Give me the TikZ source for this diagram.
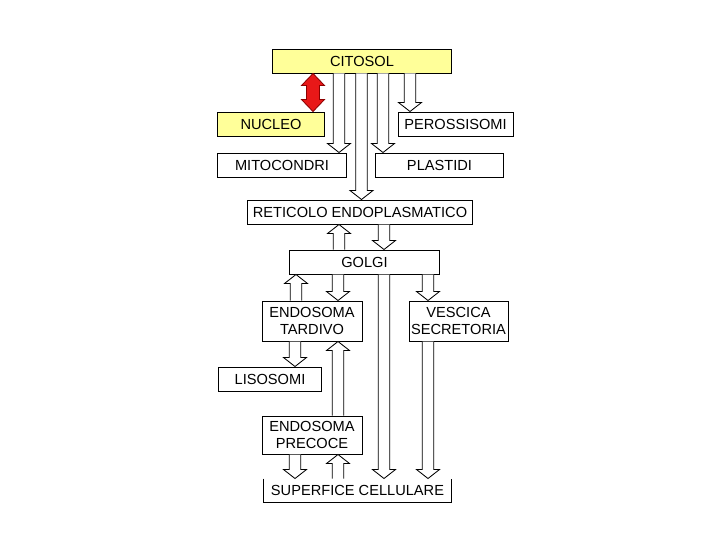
\documentclass[tikz,border=0pt]{standalone}
\usepackage{fontspec}
\setmainfont{Liberation Sans}
\usetikzlibrary{calc}
\definecolor{citoyellow}{RGB}{255,255,153}
\definecolor{nucred}{RGB}{232,24,24}
\definecolor{nucredline}{RGB}{140,0,0}

% hollow block arrow: x, from anchor, to anchor
\newcommand{\transport}[3]{%
  \coordinate (t-s) at (#2 -| #1,0);
  \coordinate (t-e) at (#3 -| #1,0);
  \coordinate (t-h) at ($(t-e)!0.225cm!(t-s)$);
  \draw[flow] ($(t-s)+(-5.75,0)$) -- ($(t-h)+(-5.75,0)$) -- ($(t-h)+(-11.5,0)$) -- (t-e)
    -- ($(t-h)+(11.5,0)$) -- ($(t-h)+(5.75,0)$) -- ($(t-s)+(5.75,0)$);
}

\begin{document}
\begin{tikzpicture}[x=0.025cm, y=-0.025cm,
  box/.style={draw, line width=0.7pt, inner sep=0pt, minimum height=0.6cm, align=center,
    font=\fontsize{10.4}{11.5}\selectfont},
  flow/.style={draw, fill=white, line width=0.6pt, line join=miter},
  exchange/.style={draw=nucredline, fill=nucred, line width=0.6pt}]
  \useasboundingbox (0,0) rectangle (720,540);

  \node[box, fill=citoyellow, minimum width=4.45cm] (citosol) at (362,61) {CITOSOL};
  \node[box, fill=citoyellow, minimum width=2.65cm] (nucleo) at (271,124) {NUCLEO};
  \node[box, minimum width=2.875cm] (perox) at (455.5,124) {PEROSSISOMI};
  \node[box, minimum width=3.2cm] (mito) at (282,165) {MITOCONDRI};
  \node[box, minimum width=3.175cm] (plast) at (439.5,165) {PLASTIDI};
  \node[box, minimum width=5.6cm] (reticolo) at (360,212) {RETICOLO ENDOPLASMATICO};
  \node[box, minimum width=3.725cm] (golgi) at (364.5,262) {GOLGI};
  \node[box, minimum width=2.5cm, minimum height=1cm] (tardivo) at (312,321) {ENDOSOMA\\TARDIVO};
  \node[box, minimum width=2.475cm, minimum height=1cm] (vescica) at (458.5,321) {VESCICA\\SECRETORIA};
  \node[box, minimum width=2.55cm] (lisosomi) at (270,379) {LISOSOMI};
  \node[box, minimum width=2.5cm, minimum height=0.95cm] (precoce) at (312,435) {ENDOSOMA\\PRECOCE};
  \node[box, draw=none, minimum width=4.675cm, minimum height=0.575cm] (superficie) at (357.5,490.5) {SUPERFICE CELLULARE};
  \draw[line width=0.7pt] (superficie.north west) -- (superficie.south west)
    -- (superficie.south east) -- (superficie.north east);

  \coordinate (n-s) at (citosol.south -| 313,0);
  \coordinate (n-e) at (nucleo.north -| 313,0);
  \draw[exchange] (n-s) -- ($(n-s)!0.3cm!(n-e)+(11.5,0)$) -- ($(n-s)!0.3cm!(n-e)+(6.5,0)$)
    -- ($(n-e)!0.3cm!(n-s)+(6.5,0)$) -- ($(n-e)!0.3cm!(n-s)+(11.5,0)$) -- (n-e)
    -- ($(n-e)!0.3cm!(n-s)+(-11.5,0)$) -- ($(n-e)!0.3cm!(n-s)+(-6.5,0)$)
    -- ($(n-s)!0.3cm!(n-e)+(-6.5,0)$) -- ($(n-s)!0.3cm!(n-e)+(-11.5,0)$) -- cycle;

  \transport{339}{citosol.south}{mito.north}
  \transport{361.5}{citosol.south}{reticolo.north}
  \transport{383}{citosol.south}{plast.north}
  \transport{410}{citosol.south}{perox.north}
  \transport{339}{golgi.north}{reticolo.south}
  \transport{384}{reticolo.south}{golgi.north}
  \transport{296}{tardivo.north}{golgi.south}
  \transport{338}{golgi.south}{tardivo.north}
  \transport{384}{golgi.south}{superficie.north}
  \transport{428}{golgi.south}{vescica.north}
  \transport{295}{tardivo.south}{lisosomi.north}
  \transport{338}{precoce.north}{tardivo.south}
  \transport{428}{vescica.south}{superficie.north}
  \transport{295}{precoce.south}{superficie.north}
  \transport{338}{superficie.north}{precoce.south}
\end{tikzpicture}
\end{document}
